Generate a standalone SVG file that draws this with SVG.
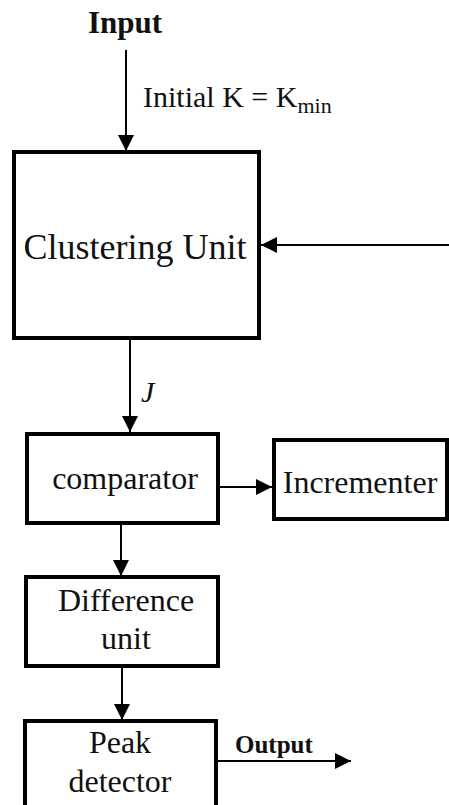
<svg xmlns="http://www.w3.org/2000/svg" width="449" height="805" viewBox="0 0 449 805">
  <defs>
    <marker id="arrow" viewBox="0 0 16 16" refX="16" refY="8" markerWidth="16" markerHeight="16" markerUnits="userSpaceOnUse" orient="auto">
      <path d="M0,0 L16,8 L0,16 z" fill="#000"/>
    </marker>
  </defs>
  <style>
    .box { fill: #fff; stroke: #000; stroke-width: 4; }
    .wire { stroke: #000; stroke-width: 2; fill: none; }
    text { fill: #111; }
  </style>
  <rect width="449" height="805" fill="#fff"/>

  <g id="connectors">
    <line class="wire" x1="126" y1="50" x2="126" y2="151" marker-end="url(#arrow)"/>
    <line class="wire" x1="449" y1="245" x2="261" y2="245" marker-end="url(#arrow)"/>
    <line class="wire" x1="130" y1="340" x2="130" y2="432" marker-end="url(#arrow)"/>
    <line class="wire" x1="219" y1="487" x2="272" y2="487" marker-end="url(#arrow)"/>
    <line class="wire" x1="447" y1="478" x2="449" y2="478"/>
    <line class="wire" x1="121" y1="524" x2="121" y2="576" marker-end="url(#arrow)"/>
    <line class="wire" x1="122" y1="667" x2="122" y2="720" marker-end="url(#arrow)"/>
    <line class="wire" x1="213" y1="761" x2="351" y2="761" marker-end="url(#arrow)"/>
  </g>

  <g font-family="'Liberation Serif', 'Times New Roman', serif">
    <g id="input">
      <text x="125" y="33" font-size="31" font-weight="bold" text-anchor="middle">Input</text>
      <text x="143" y="107" font-size="30">Initial K = K<tspan font-size="22" dy="6">min</tspan></text>
    </g>

    <g id="clustering">
      <rect class="box" x="14" y="152" width="245" height="186"/>
      <text x="135" y="259" font-size="36" text-anchor="middle">Clustering Unit</text>
    </g>

    <g id="j-label">
      <text x="141" y="402" font-size="30" font-style="italic">J</text>
    </g>

    <g id="comparator">
      <rect class="box" x="27" y="434" width="191" height="89"/>
      <text x="125" y="489" font-size="32" text-anchor="middle">comparator</text>
    </g>

    <g id="incrementer">
      <rect class="box" x="274" y="440" width="173" height="79"/>
      <text x="360" y="493" font-size="32" text-anchor="middle">Incrementer</text>
    </g>

    <g id="difference">
      <rect class="box" x="26" y="577" width="192" height="89"/>
      <text x="126" y="611" font-size="32" text-anchor="middle">Difference</text>
      <text x="126" y="649" font-size="32" text-anchor="middle">unit</text>
    </g>

    <g id="peak">
      <rect class="box" x="25" y="721" width="191" height="100"/>
      <text x="120" y="753" font-size="32" text-anchor="middle">Peak</text>
      <text x="120" y="792" font-size="32" text-anchor="middle">detector</text>
    </g>

    <g id="output">
      <text x="235" y="753" font-size="25" font-weight="bold">Output</text>
    </g>
  </g>
</svg>
